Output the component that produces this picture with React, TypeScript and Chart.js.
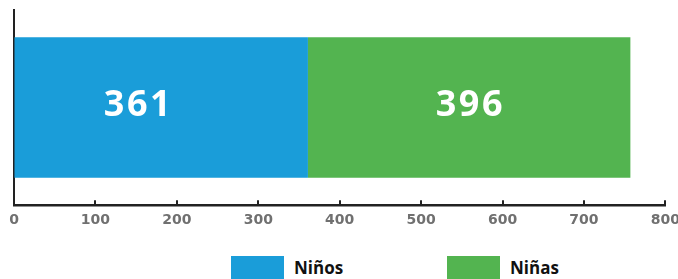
import React, { useEffect, useRef } from "react";
import { Chart, registerables } from "chart.js";

Chart.register(...registerables);

const categories = [""];
const seriesNames = ["Niños", "Niñas"];
const ninosValues = [361];
const ninasValues = [396];
const seriesColors = ["#1a9dd9", "#53b450"];
const xTicksMax = 800;
const xTickStep = 100;

const innerTicks = {
  id: "innerTicks",
  afterDraw(chart: any) {
    const { ctx, scales } = chart;
    const x = scales.x;
    const bottom = chart.chartArea.bottom;
    ctx.save();
    ctx.strokeStyle = "#222222";
    ctx.lineWidth = 2;
    x.ticks.forEach((t: any) => {
      const px = Math.round(x.getPixelForValue(t.value));
      ctx.beginPath();
      ctx.moveTo(px, bottom);
      ctx.lineTo(px, bottom - 5);
      ctx.stroke();
    });
    ctx.restore();
  },
};

const barLabels = {
  id: "barLabels",
  afterDatasetsDraw(chart: any) {
    const { ctx } = chart;
    ctx.save();
    ctx.fillStyle = "#ffffff";
    ctx.font = "bold 36px 'Open Sans'";
    (ctx as any).letterSpacing = "2.5px";
    ctx.textAlign = "center";
    ctx.textBaseline = "alphabetic";
    chart.data.datasets.forEach((ds: any, i: number) => {
      const meta = chart.getDatasetMeta(i);
      const off = ds.labelOffset || 0;
      meta.data.forEach((el: any, j: number) => {
        const cx = (el.x + el.base) / 2 + 1.25 + off;
        ctx.fillText(String(ds.data[j]), cx, el.y + 8.5);
      });
    });
    ctx.restore();
  },
};

export default function App() {
  const ref = useRef<HTMLCanvasElement | null>(null);
  useEffect(() => {
    if (!ref.current) return;
    const chart = new Chart(ref.current, {
      type: "bar",
      data: {
        labels: categories,
        datasets: [
          { label: seriesNames[0], data: ninosValues, backgroundColor: seriesColors[0], borderWidth: 0, labelOffset: -24 },
          { label: seriesNames[1], data: ninasValues, backgroundColor: seriesColors[1], borderWidth: 0 },
        ],
      },
      options: {
        indexAxis: "y",
        responsive: false,
        animation: false,
        layout: { padding: { top: 10, left: 14, right: 0, bottom: 0 } },
        plugins: { legend: { display: false }, tooltip: { enabled: false } },
        scales: {
          x: {
            stacked: true,
            min: 0,
            max: xTicksMax,
            ticks: {
              stepSize: xTickStep,
              padding: 7,
              color: "#707070",
              font: { family: "'DejaVu Sans'", size: 14, weight: "bold" },
              maxRotation: 0,
            },
            grid: { display: true, drawOnChartArea: false, drawTicks: false },
            border: { display: true, color: "#222222", width: 2.5 },
          },
          y: {
            stacked: true,
            ticks: { display: false },
            grid: { display: false, drawTicks: false },
            border: { display: true, color: "#222222", width: 2 },
          },
        },
      },
      plugins: [innerTicks, barLabels],
    } as any);
    return () => chart.destroy();
  }, []);

  return (
    <div style={{ position: "fixed", left: 0, top: 0, width: 678, height: 279, overflow: "hidden", background: "#fff" }}>
      <canvas ref={ref} width={687} height={236} style={{ position: "absolute", left: 0, top: 0, width: 687, height: 236 }} />
      <div style={{ position: "absolute", left: 231, top: 256, display: "flex" }}>
        {seriesNames.map((n, i) => (
          <div key={n} style={{ width: 216, display: "flex", alignItems: "center" }}>
            <div style={{ width: 53, height: 23, background: seriesColors[i], marginRight: 10 }} />
            <span style={{ fontFamily: "'Open Sans'", fontWeight: 700, fontSize: 17, color: "#111", lineHeight: "23px" }}>{n}</span>
          </div>
        ))}
      </div>
    </div>
  );
}
